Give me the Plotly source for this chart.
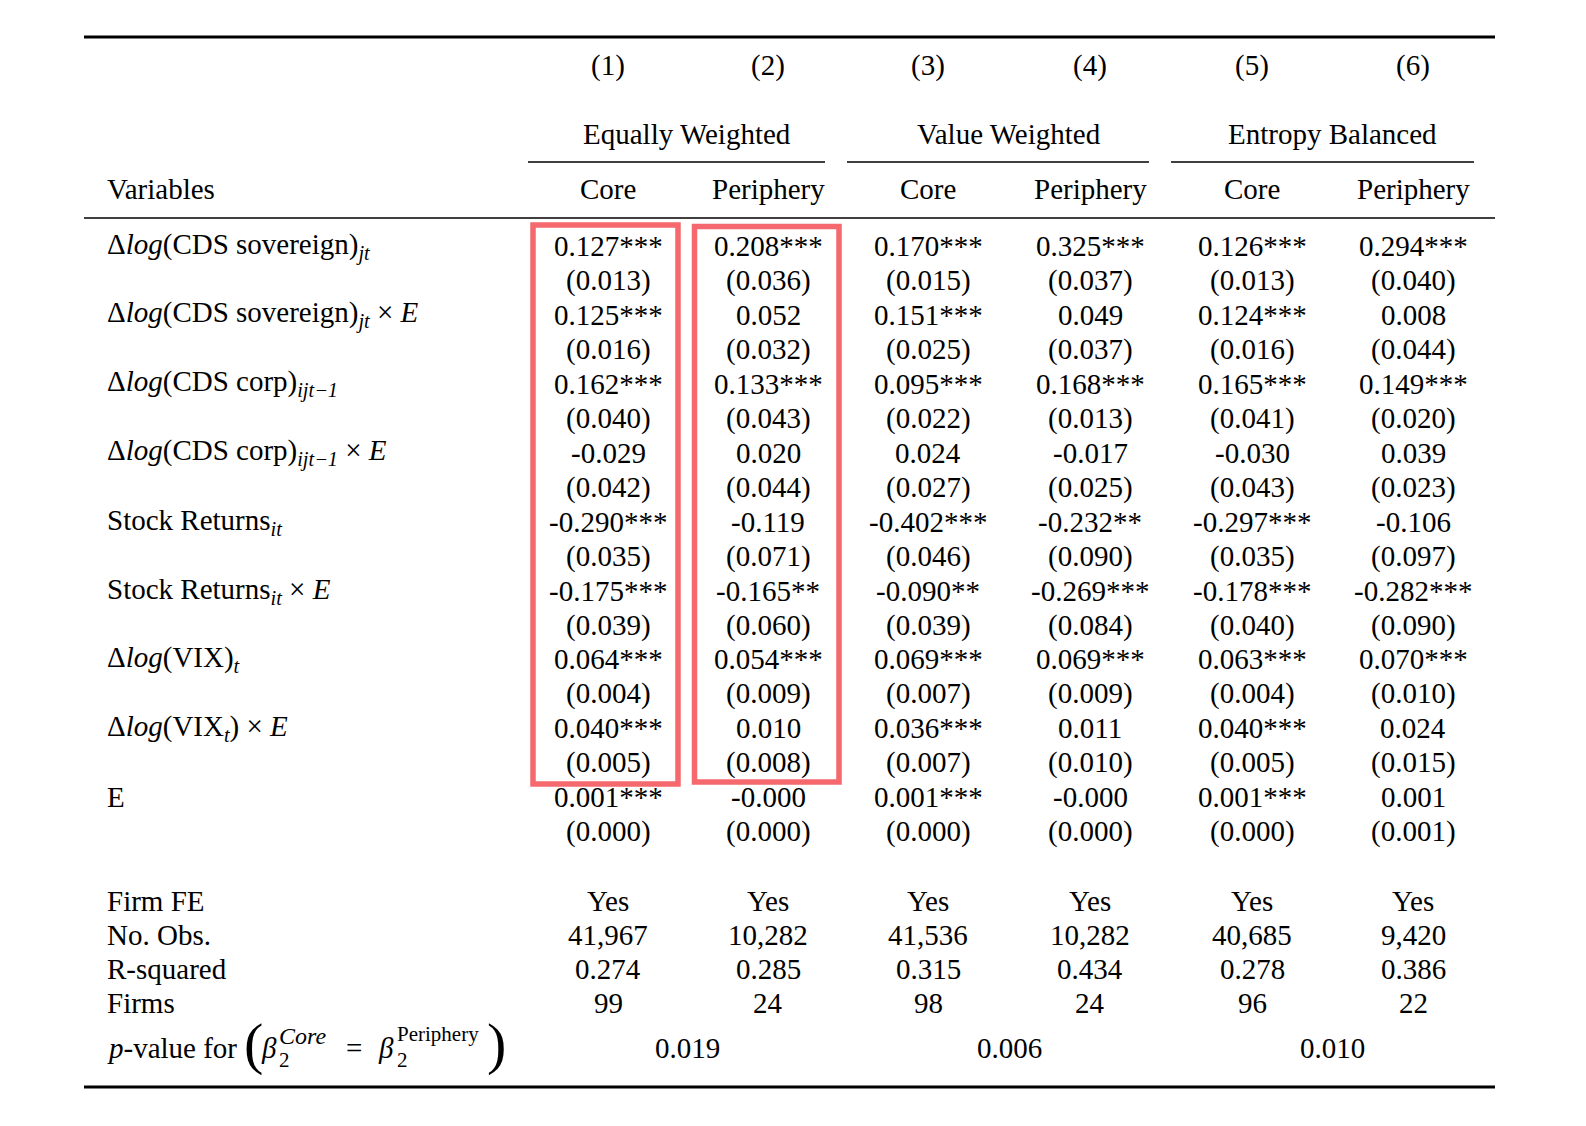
import plotly.graph_objects as go

# Datos de la tabla
col_nums = ["(1)", "(2)", "(3)", "(4)", "(5)", "(6)"]
groups = ["Equally Weighted", "Value Weighted", "Entropy Balanced"]
subgroups = ["Core", "Periphery", "Core", "Periphery", "Core", "Periphery"]

variables = [
    "Δ<i>log</i>(CDS sovereign)<sub><i>jt</i></sub>",
    "Δ<i>log</i>(CDS sovereign)<sub><i>jt</i></sub> × <i>E</i>",
    "Δ<i>log</i>(CDS corp)<sub><i>ijt−1</i></sub>",
    "Δ<i>log</i>(CDS corp)<sub><i>ijt−1</i></sub> × <i>E</i>",
    "Stock Returns<sub><i>it</i></sub>",
    "Stock Returns<sub><i>it</i></sub> × <i>E</i>",
    "Δ<i>log</i>(VIX)<sub><i>t</i></sub>",
    "Δ<i>log</i>(VIX<sub><i>t</i></sub>) × <i>E</i>",
    "E",
]

# coeficientes y errores estandar por columna
coef_1 = ["0.127***", "0.125***", "0.162***", "-0.029", "-0.290***", "-0.175***", "0.064***", "0.040***", "0.001***"]
se_1 = ["0.013", "0.016", "0.040", "0.042", "0.035", "0.039", "0.004", "0.005", "0.000"]
coef_2 = ["0.208***", "0.052", "0.133***", "0.020", "-0.119", "-0.165**", "0.054***", "0.010", "-0.000"]
se_2 = ["0.036", "0.032", "0.043", "0.044", "0.071", "0.060", "0.009", "0.008", "0.000"]
coef_3 = ["0.170***", "0.151***", "0.095***", "0.024", "-0.402***", "-0.090**", "0.069***", "0.036***", "0.001***"]
se_3 = ["0.015", "0.025", "0.022", "0.027", "0.046", "0.039", "0.007", "0.007", "0.000"]
coef_4 = ["0.325***", "0.049", "0.168***", "-0.017", "-0.232**", "-0.269***", "0.069***", "0.011", "-0.000"]
se_4 = ["0.037", "0.037", "0.013", "0.025", "0.090", "0.084", "0.009", "0.010", "0.000"]
coef_5 = ["0.126***", "0.124***", "0.165***", "-0.030", "-0.297***", "-0.178***", "0.063***", "0.040***", "0.001***"]
se_5 = ["0.013", "0.016", "0.041", "0.043", "0.035", "0.040", "0.004", "0.005", "0.000"]
coef_6 = ["0.294***", "0.008", "0.149***", "0.039", "-0.106", "-0.282***", "0.070***", "0.024", "0.001"]
se_6 = ["0.040", "0.044", "0.020", "0.023", "0.097", "0.090", "0.010", "0.015", "0.001"]

stat_labels = ["Firm FE", "No. Obs.", "R-squared", "Firms"]
firm_fe = ["Yes", "Yes", "Yes", "Yes", "Yes", "Yes"]
n_obs = ["41,967", "10,282", "41,536", "10,282", "40,685", "9,420"]
r_squared = ["0.274", "0.285", "0.315", "0.434", "0.278", "0.386"]
firms = ["99", "24", "98", "24", "96", "22"]
p_values = ["0.019", "0.006", "0.010"]

coefs = [coef_1, coef_2, coef_3, coef_4, coef_5, coef_6]
ses = [se_1, se_2, se_3, se_4, se_5, se_6]
stats = [firm_fe, n_obs, r_squared, firms]

# Posiciones (en pixeles de la pagina)
FONT = "Liberation Serif, Times New Roman, serif"
SIZE = 29
x_cols = [608, 768, 928, 1090, 1252, 1413]
x_groups = [687, 1009, 1332]
x_label = 105
y_first = 246
row_step = 68.9
se_step = 34.5
y_stats = [901, 935, 969, 1003]
y_pval = 1048

fig = go.Figure()
ann = []


def txt(x, y, s, anchor="center", size=SIZE, yanchor="middle"):
    ann.append(dict(x=x, y=y, text=s, showarrow=False, xanchor=anchor, yanchor=yanchor,
                    font=dict(family=FONT, size=size, color="black")))


# encabezado
for i in range(6):
    txt(x_cols[i], 65, col_nums[i])
    txt(x_cols[i], 189, subgroups[i])
for g in range(3):
    txt(x_groups[g], 134, groups[g])
txt(x_label, 189, "Variables", anchor="left")

# coeficientes
for r in range(len(variables)):
    y = y_first + r * row_step
    txt(x_label, y, variables[r], anchor="left")
    for c in range(6):
        txt(x_cols[c], y, coefs[c][r])
        txt(x_cols[c], y + se_step, "(" + ses[c][r] + ")")

# estadisticas
for r in range(len(stat_labels)):
    txt(x_label, y_stats[r], stat_labels[r], anchor="left")
    for c in range(6):
        txt(x_cols[c], y_stats[r], stats[r][c])

# fila del p-value
txt(x_label, y_pval, "<i>p</i>-value for", anchor="left")
txt(242, y_pval - 5, "(", anchor="left", size=58)
txt(259, y_pval, "<i>β</i>", anchor="left")
txt(277, y_pval - 12, "<i>Core</i>", anchor="left", size=24)
txt(277, y_pval + 12, "2", anchor="left", size=21)
txt(344, y_pval, "=", anchor="left")
txt(376, y_pval, "<i>β</i>", anchor="left")
txt(395, y_pval - 14, "Periphery", anchor="left", size=21)
txt(395, y_pval + 12, "2", anchor="left", size=21)
txt(485, y_pval - 5, ")", anchor="left", size=58)
for g in range(3):
    txt(x_groups[g], y_pval, p_values[g])

# lineas de la tabla
shapes = [
    dict(type="line", x0=84, x1=1495, y0=37, y1=37, line=dict(color="black", width=3)),
    dict(type="line", x0=84, x1=1495, y0=218, y1=218, line=dict(color="black", width=1.6)),
    dict(type="line", x0=84, x1=1495, y0=1087, y1=1087, line=dict(color="black", width=3)),
    dict(type="line", x0=528, x1=825, y0=162, y1=162, line=dict(color="black", width=1.4)),
    dict(type="line", x0=847, x1=1149, y0=162, y1=162, line=dict(color="black", width=1.4)),
    dict(type="line", x0=1171, x1=1474, y0=162, y1=162, line=dict(color="black", width=1.4)),
    # recuadros rojos
    dict(type="rect", x0=533, x1=678, y0=225, y1=784, line=dict(color="#F4686E", width=5.5)),
    dict(type="rect", x0=694.5, x1=839, y0=226.5, y1=782, line=dict(color="#F4686E", width=5.5)),
]
for s in shapes:
    s["xref"] = "x"
    s["yref"] = "y"

fig.update_layout(
    width=1570, height=1110,
    margin=dict(l=0, r=0, t=0, b=0),
    plot_bgcolor="white", paper_bgcolor="white",
    xaxis=dict(range=[8, 1578], visible=False),
    yaxis=dict(range=[1118, 8], visible=False),
    annotations=ann,
    shapes=shapes,
    showlegend=False,
)

fig.write_html("out.html")
